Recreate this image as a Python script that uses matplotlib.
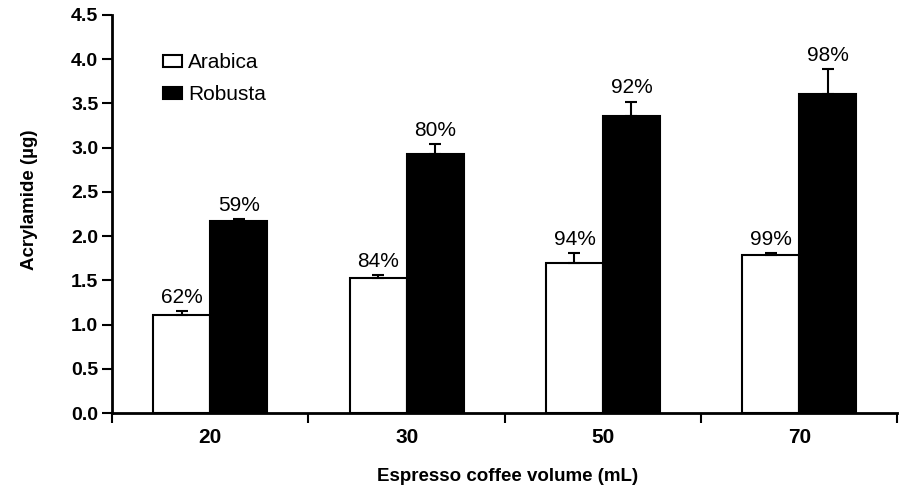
import matplotlib
matplotlib.use("Agg")
import matplotlib.pyplot as plt
import numpy as np

plt.rcParams['font.family'] = ['Liberation Sans', 'DejaVu Sans']

# espresso volumes (mL) and acrylamide amounts (ug)
volumes = ['20', '30', '50', '70']
arabica = [1.11, 1.53, 1.70, 1.79]
arabica_err = [0.04, 0.03, 0.11, 0.02]
arabica_pct = ['62%', '84%', '94%', '99%']
robusta = [2.17, 2.93, 3.36, 3.61]
robusta_err = [0.02, 0.11, 0.16, 0.28]
robusta_pct = ['59%', '80%', '92%', '98%']

fig = plt.figure(figsize=(9.12, 4.93), dpi=100)
ax = fig.add_axes([0.123, 0.162, 0.861, 0.808])

x = np.arange(len(volumes))
w = 0.29

ax.bar(x - w / 2, arabica, w, color='white', edgecolor='black', linewidth=1.5,
       label='Arabica', zorder=2)
ax.bar(x + w / 2, robusta, w, color='black', edgecolor='black', linewidth=1.5,
       label='Robusta', zorder=2)

ax.errorbar(x - w / 2, arabica, yerr=[np.zeros(4), arabica_err], fmt='none',
            ecolor='black', elinewidth=1.5, capsize=4, capthick=1.5, zorder=3)
ax.errorbar(x + w / 2, robusta, yerr=[np.zeros(4), robusta_err], fmt='none',
            ecolor='black', elinewidth=1.5, capsize=4, capthick=1.5, zorder=3)

# percentage labels above the bars
for i in range(len(volumes)):
    ax.annotate(arabica_pct[i], (x[i] - w / 2, arabica[i] + arabica_err[i]),
                xytext=(0, 3), textcoords='offset points', ha='center',
                va='bottom', fontsize=15)
    ax.annotate(robusta_pct[i], (x[i] + w / 2, robusta[i] + robusta_err[i]),
                xytext=(0, 3), textcoords='offset points', ha='center',
                va='bottom', fontsize=15)

ax.set_xlim(-0.5, 3.5)
ax.set_ylim(0, 4.5)
ax.set_yticks(np.arange(0, 4.51, 0.5))
ax.set_yticklabels(['%.1f' % v for v in np.arange(0, 4.51, 0.5)],
                   fontsize=14, fontweight='bold')

# major ticks at group boundaries, labels at group centres
ax.set_xticks(np.arange(-0.5, 3.6, 1.0))
ax.set_xticklabels([])
ax.set_xticks(x, minor=True)
ax.set_xticklabels(volumes, minor=True, fontsize=15, fontweight='bold')
ax.tick_params(axis='x', which='minor', length=0, pad=11)
ax.tick_params(axis='x', which='major', length=7, width=1.5, direction='out')
ax.tick_params(axis='y', length=7, width=1.5, direction='out', pad=3)

for s in ['top', 'right']:
    ax.spines[s].set_visible(False)
for s in ['left', 'bottom']:
    ax.spines[s].set_linewidth(2)

ax.set_ylabel('Acrylamide (µg)', fontsize=13.5, fontweight='bold')
ax.yaxis.set_label_coords(-0.094, 0.535)
ax.set_xlabel('Espresso coffee volume (mL)', fontsize=13.5, fontweight='bold')
ax.xaxis.set_label_coords(0.503, -0.138)

ax.legend(loc='upper left', bbox_to_anchor=(0.041, 0.95), frameon=False,
          fontsize=15, handlelength=0.9, handleheight=0.55, handletextpad=0.3,
          labelspacing=0.62)

fig.savefig('out.png', dpi=100)
